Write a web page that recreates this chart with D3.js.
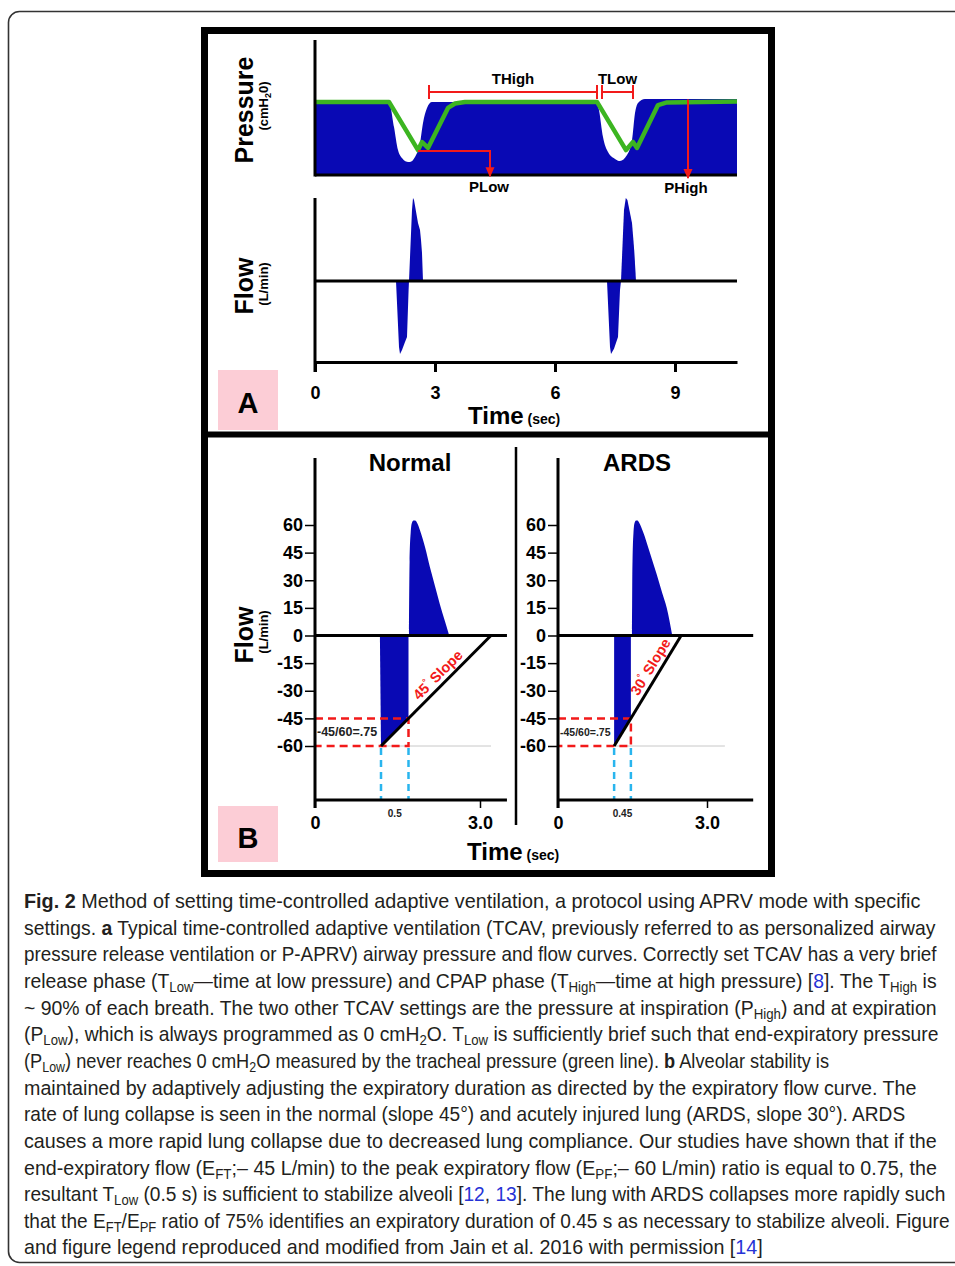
<!DOCTYPE html>
<html>
<head>
<meta charset="utf-8">
<script src="https://cdn.jsdelivr.net/npm/d3@7"></script>
<style>
  body { margin: 0; background: #fff; }
  svg { display: block; }
  text { font-family: "Liberation Sans", Arial, sans-serif; }
</style>
</head>
<body>
<svg id="fig" width="955" height="1266"></svg>
<script>
// ---------- data (time in s, pressure in cmH2O, flow in L/min) ----------
var timeTicksA = [0, 3, 6, 9];

// airway pressure delivered (top of blue area)
var pressureCurve = [
  [0, 28.1], [1.85, 28.1], [1.975, 18.5], [2.075, 9.6], [2.175, 6.5], [2.275, 5.2], [2.375, 5.0],
  [2.5, 6.9], [2.625, 12.3], [2.7, 20], [2.8, 25.8], [2.925, 28.1],
  [7.05, 28.1], [7.1, 25], [7.2, 14.6], [7.325, 8.8], [7.5, 6.2], [7.625, 5.4], [7.8, 7.7],
  [7.925, 13.5], [8.0, 23.8], [8.075, 27.7], [8.25, 29.2], [10.55, 29.2]
];
// tracheal pressure (green line)
var trachealCurve = [
  [0, 28.1], [1.85, 28.1], [2.575, 9.6], [2.675, 12.7], [2.825, 10.4], [3.325, 25.8], [3.5, 27.5],
  [3.75, 28.1], [7.05, 28.1], [7.775, 9.6], [7.95, 12.7], [8.05, 10.4], [8.575, 26.9], [8.8, 27.9],
  [10.55, 28.3]
];
// flow spikes in panel A
var flowSpikesA = [
  [[2.025, 0], [2.1, -47.7], [2.125, -52.8], [2.175, -49.9], [2.25, -44.1], [2.3, -40.5], [2.34, -6.5], [2.35, 0]],
  [[2.35, 0], [2.425, 51.3], [2.45, 60], [2.475, 58.6], [2.575, 41.9], [2.625, 36.9], [2.65, 29.6], [2.675, 20.2], [2.7, 0]],
  [[7.3, 0], [7.375, -47.7], [7.4, -52.8], [7.475, -49], [7.575, -40.5], [7.625, -6.5], [7.65, 0]],
  [[7.65, 0], [7.725, 51.3], [7.77, 60], [7.81, 58.6], [7.925, 41.9], [7.96, 29.6], [7.985, 20.2], [8.025, 0]]
];
// annotation values for panel A
var tHighSpan = [2.85, 7.05];
var tLowSpan = [7.175, 7.95];
var pLowMark = { t: 2.575, p: 9.2, tLabel: 4.375 };
var pHighMark = { t: 9.325, p: 29 };

var flowTicksB = [60, 45, 30, 15, 0, -15, -30, -45, -60];
var eftValue = -45, epfValue = -60;

var normalNeg = [[1.18, 0], [1.2, -60], [1.7, -45], [1.7, 0]];
var normalPos = [[1.71, 0], [1.72, 40], [1.74, 56], [1.76, 61], [1.79, 62.5], [1.82, 62.5], [1.86, 61],
  [1.91, 57], [2.0, 48], [2.09, 37], [2.18, 27], [2.27, 17], [2.36, 8], [2.44, 0]];
var normalSlope = [[1.2, -60], [3.2, 0]];

var ardsNeg = [[1.13, 0], [1.13, -60], [1.4675, -45], [1.4675, 0]];
var ardsPos = [[1.49, 0], [1.5, 40], [1.52, 56], [1.54, 61], [1.57, 62.5], [1.6, 62.5], [1.64, 61],
  [1.71, 56.5], [1.85, 45], [1.99, 33], [2.1, 23], [2.19, 15], [2.3, 0]];
var ardsSlope = [[1.13, -60], [2.48, 0]];

var captionLines = [
  "*Fig. 2* Method of setting time-controlled adaptive ventilation, a protocol using APRV mode with specific",
  "settings. *a* Typical time-controlled adaptive ventilation (TCAV, previously referred to as personalized airway",
  "pressure release ventilation or P-APRV) airway pressure and flow curves. Correctly set TCAV has a very brief",
  "release phase (T_{Low}—time at low pressure) and CPAP phase (T_{High}—time at high pressure) [{{8}}]. The T_{High} is",
  "~ 90% of each breath. The two other TCAV settings are the pressure at inspiration (P_{High}) and at expiration",
  "(P_{Low}), which is always programmed as 0 cmH_{2}O. T_{Low} is sufficiently brief such that end-expiratory pressure",
  "(P_{Low}) never reaches 0 cmH_{2}O measured by the tracheal pressure (green line). *b* Alveolar stability is",
  "maintained by adaptively adjusting the expiratory duration as directed by the expiratory flow curve. The",
  "rate of lung collapse is seen in the normal (slope 45°) and acutely injured lung (ARDS, slope 30°). ARDS",
  "causes a more rapid lung collapse due to decreased lung compliance. Our studies have shown that if the",
  "end-expiratory flow (E_{FT};– 45 L/min) to the peak expiratory flow (E_{PF};– 60 L/min) ratio is equal to 0.75, the",
  "resultant T_{Low} (0.5 s) is sufficient to stabilize alveoli [{{12}}, {{13}}]. The lung with ARDS collapses more rapidly such",
  "that the E_{FT}/E_{PF} ratio of 75% identifies an expiratory duration of 0.45 s as necessary to stabilize alveoli. Figure",
  "and figure legend reproduced and modified from Jain et al. 2016 with permission [{{14}}]"
];
var captionRight = [921, 936, 937, 937, 937, 939, 830, 917, 906, 937, 937, 946, 950, 763];

// ---------- drawing ----------
var blue = '#0909b4', green = '#3cb521', red = '#f21a1a', cyan = '#29b5ee', pink = '#fccdd6';
var svg = d3.select('#fig');

svg.append('defs').append('marker')
  .attr('id', 'arr').attr('viewBox', '0 0 10 10').attr('refX', 9).attr('refY', 5)
  .attr('markerWidth', 10).attr('markerHeight', 10).attr('markerUnits', 'userSpaceOnUse')
  .attr('orient', 'auto')
  .append('path').attr('d', 'M0,0.5L10,5L0,9.5z').attr('fill', red);

// card + figure frame
svg.append('rect').attr('x', 8.5).attr('y', 11.5).attr('width', 965).attr('height', 1251).attr('rx', 11)
  .attr('fill', 'none').attr('stroke', '#333').attr('stroke-width', 1.6);
svg.append('rect').attr('x', 204.5).attr('y', 30.5).attr('width', 567).attr('height', 843)
  .attr('fill', '#fff').attr('stroke', '#000').attr('stroke-width', 7);
svg.append('line').attr('x1', 201).attr('x2', 775).attr('y1', 434.5).attr('y2', 434.5)
  .attr('stroke', '#000').attr('stroke-width', 6);

function bold(sel, size) {
  return sel.attr('font-weight', 'bold').attr('font-size', size).attr('fill', '#000');
}
function vlabel(x, y, main, sub, subDigit, subRest) {
  bold(svg.append('text'), 25).attr('text-anchor', 'middle')
    .attr('transform', 'translate(' + x + ',' + y.main + ') rotate(-90)').text(main);
  var t = bold(svg.append('text'), 13).attr('text-anchor', 'middle')
    .attr('transform', 'translate(' + (x + 15) + ',' + y.sub + ') rotate(-90)');
  t.append('tspan').text(sub);
  if (subDigit) {
    t.append('tspan').attr('font-size', 9).attr('dy', 3).text(subDigit);
    t.append('tspan').attr('dy', -3).text(subRest);
  }
}
function pinkBox(y, h, letter, base) {
  svg.append('rect').attr('x', 218).attr('y', y).attr('width', 60).attr('height', h).attr('fill', pink);
  bold(svg.append('text'), 29).attr('x', 248).attr('y', base).attr('text-anchor', 'middle').text(letter);
}
function timeTitle(x, y) {
  var t = bold(svg.append('text'), 24).attr('x', x).attr('y', y);
  t.append('tspan').text('Time');
  t.append('tspan').attr('font-size', 14).text(' (sec)');
}

// ----- panel A -----
var xA = d3.scaleLinear().domain([0, 10.55]).range([315, 737]);
var yP = d3.scaleLinear().domain([0, 30]).range([175, 97]);
var yF = d3.scaleLinear().domain([-60, 60]).range([364, 198]);
var gA = svg.append('g');

gA.append('path').datum(pressureCurve)
  .attr('d', d3.area().x(d => xA(d[0])).y0(yP(0)).y1(d => yP(d[1])).curve(d3.curveMonotoneX))
  .attr('fill', blue);
gA.append('path').datum(trachealCurve)
  .attr('d', d3.line().x(d => xA(d[0])).y(d => yP(d[1])))
  .attr('fill', 'none').attr('stroke', green).attr('stroke-width', 4.5).attr('stroke-linejoin', 'round');
gA.append('line').attr('x1', xA(0)).attr('x2', xA(0)).attr('y1', 40).attr('y2', yP(0) + 1.5)
  .attr('stroke', '#000').attr('stroke-width', 3);
gA.append('line').attr('x1', xA(0)).attr('x2', xA.range()[1]).attr('y1', yP(0)).attr('y2', yP(0))
  .attr('stroke', '#000').attr('stroke-width', 3);

function bracket(span, p) {
  var x0 = xA(span[0]), x1 = xA(span[1]), y = yP(p);
  gA.append('path')
    .attr('d', 'M' + x0 + ',' + (y - 7) + 'V' + (y + 7) + 'M' + x0 + ',' + y + 'H' + x1 +
      'M' + x1 + ',' + (y - 7) + 'V' + (y + 7))
    .attr('fill', 'none').attr('stroke', red).attr('stroke-width', 2);
}
bracket(tHighSpan, 31.9);
bracket(tLowSpan, 31.9);
bold(gA.append('text'), 15).attr('x', xA(d3.mean(tHighSpan))).attr('y', 84).attr('text-anchor', 'middle').text('THigh');
bold(gA.append('text'), 15).attr('x', xA(d3.mean(tLowSpan))).attr('y', 84).attr('text-anchor', 'middle').text('TLow');

gA.append('path')
  .attr('d', 'M' + xA(pLowMark.t) + ',' + yP(pLowMark.p) + 'H' + xA(pLowMark.tLabel) + 'V' + yP(-0.5))
  .attr('fill', 'none').attr('stroke', red).attr('stroke-width', 2).attr('marker-end', 'url(#arr)');
gA.append('path')
  .attr('d', 'M' + xA(pHighMark.t) + ',' + yP(pHighMark.p) + 'V' + yP(-1.2))
  .attr('fill', 'none').attr('stroke', red).attr('stroke-width', 2).attr('marker-end', 'url(#arr)');
bold(gA.append('text'), 15).attr('x', xA(pLowMark.tLabel) - 1).attr('y', 192).attr('text-anchor', 'middle').text('PLow');
bold(gA.append('text'), 15).attr('x', xA(pHighMark.t) - 2).attr('y', 193).attr('text-anchor', 'middle').text('PHigh');

// flow A
flowSpikesA.forEach(function (s) {
  gA.append('path').datum(s)
    .attr('d', d3.area().x(d => xA(d[0])).y0(yF(0)).y1(d => yF(d[1])))
    .attr('fill', blue);
});
gA.append('line').attr('x1', xA(0)).attr('x2', xA.range()[1]).attr('y1', yF(0)).attr('y2', yF(0))
  .attr('stroke', '#000').attr('stroke-width', 3);
gA.append('line').attr('x1', xA(0)).attr('x2', xA(0)).attr('y1', 198).attr('y2', 372)
  .attr('stroke', '#000').attr('stroke-width', 3);
var axA = gA.append('g').attr('transform', 'translate(0,362)')
  .call(d3.axisBottom(xA).tickValues(timeTicksA).tickSize(10).tickSizeOuter(0).tickPadding(14));
axA.select('.domain').attr('stroke-width', 3);
axA.selectAll('.tick line').attr('stroke-width', 3);
bold(axA.selectAll('.tick text'), 18).attr('font-family', '"Liberation Sans", Arial, sans-serif');

vlabel(253, { main: 110, sub: 106 }, 'Pressure', '(cmH', '2', '0)');
vlabel(253, { main: 286, sub: 284 }, 'Flow', '(L/min)');
pinkBox(370, 60, 'A', 413);
timeTitle(468, 424);

// ----- panel B -----
var yB = d3.scaleLinear().domain([-60, 60]).range([746, 525]);
var axisTopB = 458, axisBaseB = 800;

function panelB(cfg) {
  var x = d3.scaleLinear().domain([0, 3]).range(cfg.range);
  var g = svg.append('g');
  var xEnd = x(cfg.tMax);

  g.append('path').datum(cfg.neg)
    .attr('d', d3.line().x(d => x(d[0])).y(d => yB(d[1])))
    .attr('fill', blue);
  g.append('path').datum(cfg.pos)
    .attr('d', d3.area().x(d => x(d[0])).y0(yB(0)).y1(d => yB(d[1])).curve(d3.curveMonotoneX))
    .attr('fill', blue);

  var tS = cfg.neg[1][0], tE = cfg.neg[2][0];
  // faint base line at peak expiratory flow
  g.append('line').attr('x1', x(tS)).attr('x2', x(cfg.greyEnd)).attr('y1', yB(epfValue)).attr('y2', yB(epfValue))
    .attr('stroke', '#c8c8c8').attr('stroke-width', 1);
  // red dashed EFT / EPF box
  g.append('path')
    .attr('d', 'M' + x(0) + ',' + yB(eftValue) + 'H' + x(tE) + 'V' + yB(epfValue) + 'H' + x(0))
    .attr('fill', 'none').attr('stroke', red).attr('stroke-width', 2.5).attr('stroke-dasharray', '8,5');
  // cyan dashed drop lines
  [tS, tE].forEach(function (t) {
    g.append('line').attr('x1', x(t)).attr('x2', x(t)).attr('y1', yB(epfValue) + 2).attr('y2', axisBaseB)
      .attr('stroke', cyan).attr('stroke-width', 2.5).attr('stroke-dasharray', '7,5');
  });
  // slope line
  g.append('path').datum(cfg.slope)
    .attr('d', d3.line().x(d => x(d[0])).y(d => yB(d[1])))
    .attr('stroke', '#000').attr('stroke-width', 3);

  // axes
  g.append('line').attr('x1', x(0)).attr('x2', xEnd).attr('y1', yB(0)).attr('y2', yB(0))
    .attr('stroke', '#000').attr('stroke-width', 3);
  g.append('line').attr('x1', x(0)).attr('x2', x(0)).attr('y1', axisTopB).attr('y2', axisBaseB + 8)
    .attr('stroke', '#000').attr('stroke-width', 3);
  var ay = g.append('g').attr('transform', 'translate(' + x(0) + ',0)')
    .call(d3.axisLeft(yB).tickValues(flowTicksB).tickFormat(d => String(d))
      .tickSize(10).tickSizeOuter(0).tickPadding(2));
  ay.select('.domain').remove();
  ay.selectAll('.tick line').attr('stroke-width', 1.5);
  bold(ay.selectAll('.tick text'), 18).attr('font-family', '"Liberation Sans", Arial, sans-serif');

  var ax = g.append('g').attr('transform', 'translate(0,' + axisBaseB + ')')
    .call(d3.axisBottom(x).tickValues([0, 3]).tickFormat(d => d === 0 ? '0' : '3.0')
      .tickSize(8).tickSizeOuter(0).tickPadding(8));
  ax.select('.domain').attr('d', 'M' + x(0) + ',0H' + xEnd).attr('stroke-width', 3);
  ax.selectAll('.tick line').attr('stroke-width', 1.5);
  bold(ax.selectAll('.tick text'), 18).attr('font-family', '"Liberation Sans", Arial, sans-serif');

  bold(g.append('text'), 10).attr('x', x((tS + tE) / 2)).attr('y', 817).attr('text-anchor', 'middle')
    .attr('fill', '#222').text(cfg.tLabel);
  bold(g.append('text'), cfg.ratioSize).attr('x', x(0) + 2).attr('y', 736).attr('fill', '#222').text('-45/60=.75');

  // slope label
  var p0 = [x(cfg.slope[0][0]), yB(cfg.slope[0][1])], p1 = [x(cfg.slope[1][0]), yB(cfg.slope[1][1])];
  var ang = Math.atan2(p1[1] - p0[1], p1[0] - p0[0]) * 180 / Math.PI;
  var px = p0[0] + (p1[0] - p0[0]) * cfg.labelAt, py = p0[1] + (p1[1] - p0[1]) * cfg.labelAt;
  var st = bold(g.append('text'), 14.5).attr('fill', red).attr('text-anchor', 'middle')
    .attr('transform', 'translate(' + px + ',' + py + ') rotate(' + ang + ')').attr('y', -5);
  st.append('tspan').text(cfg.angle);
  st.append('tspan').attr('font-size', 9).attr('dy', -6).text('°');
  st.append('tspan').attr('dy', 6).text(' Slope');

  bold(g.append('text'), 24).attr('x', cfg.titleX).attr('y', 471).attr('text-anchor', 'middle').text(cfg.title);
}

panelB({ range: [315, 480], tMax: 3.49, neg: normalNeg, pos: normalPos, slope: normalSlope, greyEnd: 3.2,
  tLabel: '0.5', ratioSize: 12.5, angle: '45', labelAt: 0.58, title: 'Normal', titleX: 410 });
panelB({ range: [558, 707], tMax: 3.93, neg: ardsNeg, pos: ardsPos, slope: ardsSlope, greyEnd: 3.36,
  tLabel: '0.45', ratioSize: 10.5, angle: '30', labelAt: 0.67, title: 'ARDS', titleX: 637 });

svg.append('line').attr('x1', 516).attr('x2', 516).attr('y1', 447).attr('y2', 825)
  .attr('stroke', '#000').attr('stroke-width', 2.5);

vlabel(253, { main: 635, sub: 632 }, 'Flow', '(L/min)');
pinkBox(806, 56, 'B', 848);
timeTitle(467, 860);

// ----- caption -----
var capG = svg.append('g').attr('fill', '#231f20');
captionLines.forEach(function (line, i) {
  var t = capG.append('text').attr('x', 0).attr('y', 0)
    .attr('font-family', '"Open Sans", sans-serif').attr('font-size', 20.5);
  var parts = line.split(/(\*[^*]+\*|_\{[^}]+\}|\{\{[^}]+\}\})/).filter(s => s.length);
  var shifted = false;
  parts.forEach(function (s) {
    var ts = t.append('tspan');
    if (shifted) { ts.attr('dy', -4); shifted = false; }
    if (s[0] === '*') {
      ts.attr('font-weight', 'bold').text(s.slice(1, -1));
    } else if (s.slice(0, 2) === '_{') {
      ts.attr('font-size', 14).attr('dy', 4).text(s.slice(2, -1));
      shifted = true;
    } else if (s.slice(0, 2) === '{{') {
      ts.attr('fill', '#2633d6').text(s.slice(2, -2));
    } else {
      ts.text(s);
    }
  });
  var w = t.node().getComputedTextLength();
  var sx = (captionRight[i] - 24) / w;
  t.attr('transform', 'translate(24,' + (908 + i * 26.65) + ') scale(' + sx + ',1)');
});
</script>
</body>
</html>
